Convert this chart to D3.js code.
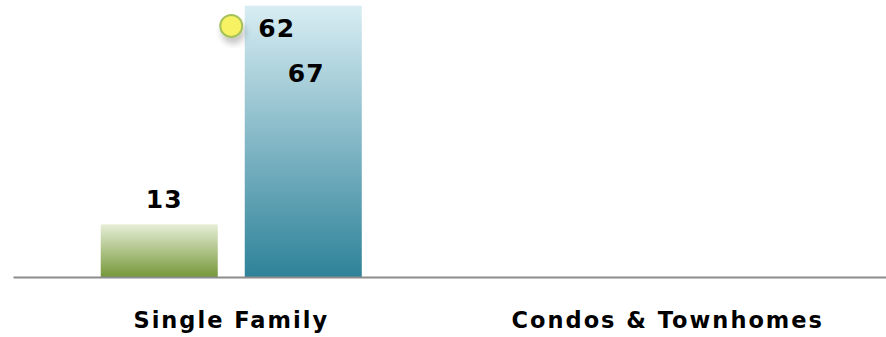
<!DOCTYPE html>
<html>
<head>
<meta charset="utf-8">
<script src="https://cdn.jsdelivr.net/npm/d3@7"></script>
<style>
  body { margin:0; background:#fff; }
  text { font-family:"DejaVu Sans", Verdana, sans-serif; font-weight:bold; fill:#000; }
</style>
</head>
<body>
<svg id="chart"></svg>
<script>
// categories along the bottom
var categories = ["Single Family", "Condos & Townhomes"];
// the two bar series (second category has no values)
var greenValues = [13, null];
var blueValues = [67, null];
// the dot series
var dotValues = [62, null];

var screen = {width:886, height:337};
var margins = {top:0, bottom:60, left:13, right:0};
var graph = {
    width:screen.width-margins.left-margins.right,
    height:screen.height-margins.top-margins.bottom
};

var svg = d3.select("#chart")
    .attr("width",screen.width)
    .attr("height",screen.height);

//gradients for the bars
var defs = svg.append("defs");
var makeGradient = function(id,top,bottom)
{
    var g = defs.append("linearGradient")
        .attr("id",id)
        .attr("x1",0).attr("y1",0).attr("x2",0).attr("y2",1);
    g.append("stop").attr("offset","0%").attr("stop-color",top);
    g.append("stop").attr("offset","100%").attr("stop-color",bottom);
}
makeGradient("greenGrad","#e6eed6","#76983a");
makeGradient("blueGrad","#d8edf3","#2e8299");

var shadow = defs.append("filter").attr("id","dotShadow")
    .attr("x","-50%").attr("y","-50%").attr("width","200%").attr("height","200%");
shadow.append("feDropShadow")
    .attr("dx",2).attr("dy",6).attr("stdDeviation",3)
    .attr("flood-color","#000").attr("flood-opacity",0.22);

var g = svg.append("g")
    .attr("transform","translate("+margins.left+","+margins.top+")");

var xScale = d3.scaleBand()
    .domain(categories)
    .range([0,graph.width]);

var seriesScale = d3.scaleBand()
    .domain(["green","blue"])
    .range([0,xScale.bandwidth()])
    .paddingInner(0.1875)
    .paddingOuter(0.609);

var yScale = d3.scaleLinear()
    .domain([0,68.4])
    .range([graph.height,0]);

var greenData = categories.map(function(c,i){return {cat:c,value:greenValues[i]};})
    .filter(function(d){return d.value!=null;});
var blueData = categories.map(function(c,i){return {cat:c,value:blueValues[i]};})
    .filter(function(d){return d.value!=null;});
var dotData = categories.map(function(c,i){return {cat:c,value:dotValues[i]};})
    .filter(function(d){return d.value!=null;});

//bars
g.selectAll(".greenBar")
    .data(greenData)
    .enter()
    .append("rect")
    .attr("class","greenBar")
    .attr("x",function(d){return xScale(d.cat)+seriesScale("green");})
    .attr("y",function(d){return yScale(d.value);})
    .attr("width",seriesScale.bandwidth())
    .attr("height",function(d){return yScale(0)-yScale(d.value);})
    .attr("fill","url(#greenGrad)");

g.selectAll(".blueBar")
    .data(blueData)
    .enter()
    .append("rect")
    .attr("class","blueBar")
    .attr("x",function(d){return xScale(d.cat)+seriesScale("blue");})
    .attr("y",function(d){return yScale(d.value);})
    .attr("width",seriesScale.bandwidth())
    .attr("height",function(d){return yScale(0)-yScale(d.value);})
    .attr("fill","url(#blueGrad)");

//axis line
var xAxis = d3.axisBottom(xScale).tickSize(0).tickPadding(0).tickFormat("");
g.append("g")
    .attr("transform","translate(0,"+graph.height+")")
    .call(xAxis)
    .call(function(a){
        a.select(".domain").attr("stroke","#8c8c8c").attr("stroke-width",2);
    });

//category labels
g.selectAll(".catLabel")
    .data(categories)
    .enter()
    .append("text")
    .attr("class","catLabel")
    .attr("x",function(d){return xScale(d)+xScale.bandwidth()/2;})
    .attr("y",graph.height+51)
    .attr("text-anchor","middle")
    .style("font-size","22.5px")
    .style("letter-spacing","2px")
    .text(function(d){return d;});

//value labels
g.selectAll(".greenLabel")
    .data(greenData)
    .enter()
    .append("text")
    .attr("x",function(d){return xScale(d.cat)+seriesScale("green")+seriesScale.bandwidth()/2+5;})
    .attr("y",function(d){return yScale(d.value)-16;})
    .attr("text-anchor","middle")
    .style("font-size","25px")
    .style("letter-spacing","1px")
    .text(function(d){return d.value;});

g.selectAll(".blueLabel")
    .data(blueData)
    .enter()
    .append("text")
    .attr("x",function(d){return xScale(d.cat)+seriesScale("blue")+seriesScale.bandwidth()/2+3;})
    .attr("y",function(d){return yScale(d.value)+76;})
    .attr("text-anchor","middle")
    .style("font-size","25px")
    .style("letter-spacing","1px")
    .text(function(d){return d.value;});

//dots
g.selectAll(".dot")
    .data(dotData)
    .enter()
    .append("circle")
    .attr("cx",function(d){return xScale(d.cat)+xScale.bandwidth()/2;})
    .attr("cy",function(d){return yScale(d.value);})
    .attr("r",11)
    .attr("fill","#f6f264")
    .attr("stroke","#a6c15a")
    .attr("stroke-width",2)
    .attr("filter","url(#dotShadow)");

g.selectAll(".dotLabel")
    .data(dotData)
    .enter()
    .append("text")
    .attr("x",function(d){return xScale(d.cat)+xScale.bandwidth()/2+27;})
    .attr("y",function(d){return yScale(d.value)+11;})
    .style("font-size","25px")
    .style("letter-spacing","1px")
    .text(function(d){return d.value;});
</script>
</body>
</html>
